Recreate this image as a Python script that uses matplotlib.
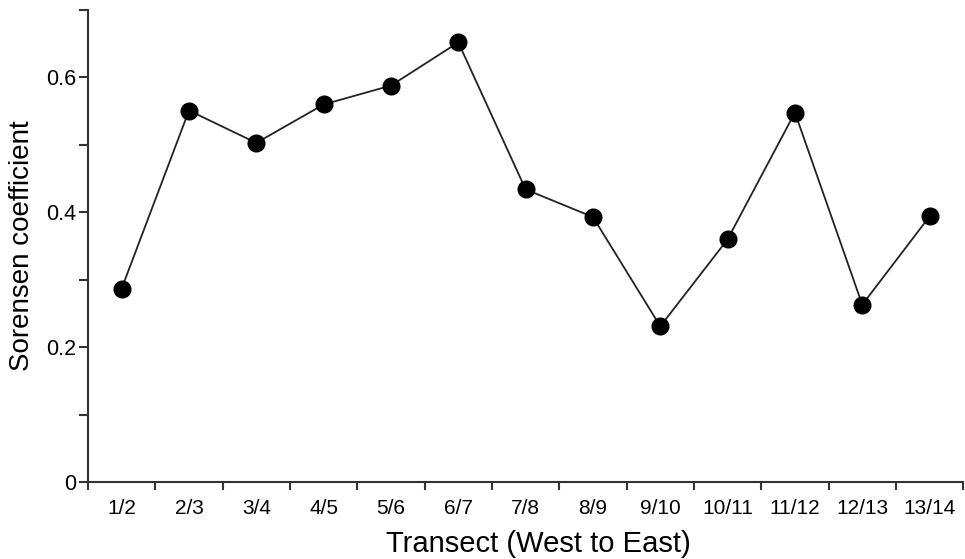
import matplotlib.pyplot as plt
from matplotlib.ticker import FixedLocator, NullFormatter

plt.rcParams['font.family'] = ['Liberation Sans', 'DejaVu Sans']

# Sorensen similarity between neighbouring transects
transects = ['1/2', '2/3', '3/4', '4/5', '5/6', '6/7', '7/8',
             '8/9', '9/10', '10/11', '11/12', '12/13', '13/14']
sorensen = [0.287, 0.551, 0.503, 0.560, 0.588, 0.652, 0.434,
            0.393, 0.231, 0.360, 0.548, 0.263, 0.394]

fig = plt.figure(figsize=(9.65, 5.59), dpi=100)
ax = fig.add_axes([0.0912, 0.1377, 0.907, 0.8443])

x = list(range(len(transects)))
ax.plot(x, sorensen, color='#222222', linewidth=1.3,
        marker='o', markersize=12, markerfacecolor='black',
        markeredgecolor='black')

# category labels sit between the tick marks
ax.set_xlim(-0.5, len(transects) - 0.5)
ax.xaxis.set_major_locator(FixedLocator([i - 0.5 for i in range(len(transects) + 1)]))
ax.xaxis.set_major_formatter(NullFormatter())
ax.xaxis.set_minor_locator(FixedLocator(x))
ax.set_xticklabels(transects, minor=True)
ax.tick_params(axis='x', which='major', direction='out', length=6, width=1.5, color='#333333')
ax.tick_params(axis='x', which='minor', length=0, pad=12, labelsize=15)

ax.set_ylim(0, 0.7)
ax.set_yticks([0, 0.2, 0.4, 0.6])
ax.set_yticklabels(['0', '0.2', '0.4', '0.6'])
ax.set_yticks([0.1, 0.3, 0.5, 0.7], minor=True)
ax.tick_params(axis='y', which='both', direction='out', length=6.5, width=1.5,
               color='#333333', labelsize=15.5, pad=2)

for side in ['top', 'right']:
    ax.spines[side].set_visible(False)
for side in ['left', 'bottom']:
    ax.spines[side].set_linewidth(1.5)
    ax.spines[side].set_color('#333333')

ax.set_xlabel('Transect (West to East)', fontsize=21)
ax.xaxis.set_label_coords(0.515, -0.102)
ax.set_ylabel('Sorensen coefficient', fontsize=20, labelpad=8)

plt.savefig('out.png', dpi=100)
